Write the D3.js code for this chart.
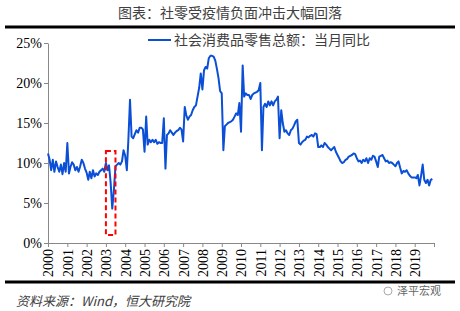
<!DOCTYPE html>
<html>
<head>
<meta charset="utf-8">
<script src="https://cdn.jsdelivr.net/npm/d3@7"></script>
<style>
  body { margin: 0; background: #fff; }
  #chart { width: 460px; height: 311px; }
  .tick text { font-family: "Liberation Serif", "Times New Roman", serif; fill: #000; }
</style>
</head>
<body>
<div id="chart"></div>
<script>
// chart texts
const titleText = "图表：社零受疫情负面冲击大幅回落";
const seriesName = "社会消费品零售总额：当月同比";
const sourceText = "资料来源：Wind，恒大研究院";
const watermarkText = "泽平宏观";

// x axis: one tick per year, label for 2000-2019
const tickYears = d3.range(2000, 2021);
const startYear = 2000;

// y axis ticks (%)
const yTicks = [0, 5, 10, 15, 20, 25];

// monthly yoy growth (%), Jan 2000 .. Dec 2019, one row per year
const yoyValues = [
  11.2, 10.4, 9.1, 10.4, 8.9, 10.2, 9.5, 8.9, 9.8, 8.6, 10.0, 8.9,   // 2000
  12.5, 8.7, 9.5, 10.1, 9.8, 9.1, 9.5, 8.9, 9.6, 10.4, 10.0, 9.3,    // 2001
  8.8, 7.9, 8.9, 8.1, 9.1, 8.3, 8.7, 8.5, 8.9, 9.1, 9.3, 8.9,        // 2002
  10.0, 9.1, 9.7, 7.5, 4.3, 6.6, 9.6, 9.8, 10.0, 9.8, 10.2, 11.6,    // 2003
  10.9, 9.1, 12.9, 17.9, 13.3, 13.1, 13.6, 14.1, 13.8, 14.4, 14.4, 14.2, // 2004
  11.4, 15.8, 12.3, 12.9, 12.6, 12.9, 12.6, 12.9, 12.4, 12.6, 12.5, 12.5, // 2005
  15.6, 9.3, 13.5, 13.7, 14.1, 13.8, 13.5, 13.8, 14.0, 14.1, 14.4, 14.2, // 2006
  12.7, 17.0, 16.0, 15.4, 15.8, 16.0, 16.6, 17.0, 17.2, 18.3, 19.4, 21.2, // 2007
  19.2, 21.6, 22.0, 21.8, 23.1, 23.4, 23.4, 23.3, 22.8, 21.8, 20.6, 19.0, // 2008
  18.7, 11.6, 14.6, 14.8, 15.0, 15.1, 15.2, 15.4, 15.8, 16.2, 16.0, 17.5, // 2009
  13.9, 22.2, 18.3, 18.7, 18.5, 18.5, 18.0, 18.5, 18.7, 18.8, 18.9, 19.1, // 2010
  20.0, 11.6, 17.0, 17.4, 17.0, 17.7, 17.2, 17.7, 17.2, 17.7, 17.9, 18.3, // 2011
  13.1, 16.6, 15.0, 13.9, 14.1, 13.7, 13.5, 14.1, 14.3, 14.7, 15.2, 15.4, // 2012
  12.5, 12.3, 12.6, 12.8, 12.9, 13.3, 13.2, 13.4, 13.5, 13.3, 13.7, 13.6, // 2013
  12.0, 12.0, 12.2, 12.0, 12.5, 12.3, 12.0, 11.8, 11.6, 11.8, 12.0, 11.4, // 2014
  11.0, 10.6, 10.2, 10.0, 10.1, 10.4, 10.5, 10.8, 10.9, 11.0, 11.2, 11.1, // 2015
  10.6, 10.2, 10.3, 10.0, 10.4, 10.2, 10.6, 10.0, 10.6, 10.4, 10.9, 10.8, // 2016
  10.2, 9.5, 10.8, 10.9, 11.0, 10.6, 10.2, 10.3, 10.0, 10.1, 10.0, 9.8,  // 2017
  9.6, 10.0, 10.2, 9.4, 8.7, 9.0, 8.9, 9.1, 8.7, 8.4, 8.2, 8.2,         // 2018
  8.2, 8.1, 8.5, 7.2, 8.4, 9.8, 7.9, 7.5, 7.9, 7.2, 7.9, 8.0            // 2019
];

// SARS highlight box: months covered and value range (%)
const boxMonths = [new Date(2003, 0, 1), new Date(2003, 6, 1)];
const boxRange = [1, 11.5];

const data = yoyValues.map((v, i) => ({
  date: new Date(startYear + Math.floor(i / 12), i % 12, 1),
  value: v
}));

const margin = { top: 43, right: 26, bottom: 68, left: 48 };
const fullWidth = 460, fullHeight = 311;
const width = fullWidth - margin.left - margin.right;
const height = fullHeight - margin.top - margin.bottom;

const svg = d3.select("#chart")
  .append("svg")
  .attr("width", fullWidth)
  .attr("height", fullHeight);

// Title and frame rules
svg.append("text")
  .attr("x", 230)
  .attr("y", 18)
  .attr("text-anchor", "middle")
  .style("font-family", "'Noto Sans CJK SC', sans-serif")
  .style("font-size", "14px")
  .style("fill", "#404040")
  .text(titleText);

svg.append("line")
  .attr("x1", 5).attr("x2", 455)
  .attr("y1", 27).attr("y2", 27)
  .attr("stroke", "#000")
  .attr("stroke-width", 3);

svg.append("line")
  .attr("x1", 5).attr("x2", 455)
  .attr("y1", 282).attr("y2", 282)
  .attr("stroke", "#000")
  .attr("stroke-width", 3);

const g = svg.append("g")
  .attr("transform", `translate(${margin.left},${margin.top})`);

// Scales
const x = d3.scaleTime()
  .domain([new Date(startYear, 0, 1), new Date(tickYears[tickYears.length - 1], 0, 1)])
  .range([0, width]);

const y = d3.scaleLinear()
  .domain([0, 25])
  .range([height, 0]);

// Axes
const xAxis = g.append("g")
  .attr("transform", `translate(0,${height})`)
  .call(d3.axisBottom(x)
    .tickValues(tickYears.map(yr => new Date(yr, 0, 1)))
    .tickSize(4)
    .tickSizeOuter(0)
    .tickFormat(d => d.getFullYear() < 2020 ? d.getFullYear() : ""));

xAxis.selectAll("text")
  .style("font-size", "14px")
  .attr("transform", "rotate(-90)")
  .attr("text-anchor", "end")
  .attr("x", -6)
  .attr("y", 0)
  .attr("dy", "0.35em");

const yAxis = g.append("g")
  .call(d3.axisLeft(y)
    .tickValues(yTicks)
    .tickSize(4)
    .tickSizeOuter(0)
    .tickFormat(d => d + "%"));

yAxis.selectAll("text")
  .style("font-size", "14px")
  .attr("x", -6);

g.selectAll(".domain, .tick line").attr("stroke", "#888");

// Series line
const line = d3.line()
  .x(d => x(d.date))
  .y(d => y(d.value));

g.append("path")
  .datum(data)
  .attr("fill", "none")
  .attr("stroke", "#0a4fd6")
  .attr("stroke-width", 2)
  .attr("stroke-linejoin", "round")
  .attr("d", line);

// Red dashed box around 2003
g.append("rect")
  .attr("x", x(boxMonths[0]))
  .attr("y", y(boxRange[1]))
  .attr("width", x(boxMonths[1]) - x(boxMonths[0]))
  .attr("height", y(boxRange[0]) - y(boxRange[1]))
  .attr("fill", "none")
  .attr("stroke", "#ff0000")
  .attr("stroke-width", 2)
  .attr("stroke-dasharray", "5,3");

// Legend
const legend = svg.append("g")
  .attr("transform", "translate(148,40)");

legend.append("line")
  .attr("x1", 0).attr("x2", 23)
  .attr("y1", 0).attr("y2", 0)
  .attr("stroke", "#0a4fd6")
  .attr("stroke-width", 2);

legend.append("text")
  .attr("x", 26)
  .attr("y", 0)
  .attr("dy", "0.35em")
  .style("font-family", "'Noto Sans CJK SC', sans-serif")
  .style("font-size", "14px")
  .style("fill", "#404040")
  .text(seriesName);

// Source note
svg.append("text")
  .attr("x", 16)
  .attr("y", 306)
  .style("font-family", "'Noto Sans CJK SC', sans-serif")
  .style("font-size", "13px")
  .style("font-style", "italic")
  .style("fill", "#404040")
  .text(sourceText);

// Watermark
svg.append("circle")
  .attr("cx", 388).attr("cy", 291).attr("r", 4)
  .attr("fill", "none")
  .attr("stroke", "#aaa")
  .attr("stroke-width", 1);

svg.append("text")
  .attr("x", 397)
  .attr("y", 295)
  .style("font-family", "'Noto Sans CJK SC', sans-serif")
  .style("font-size", "11px")
  .style("fill", "#666")
  .text(watermarkText);
</script>
</body>
</html>
